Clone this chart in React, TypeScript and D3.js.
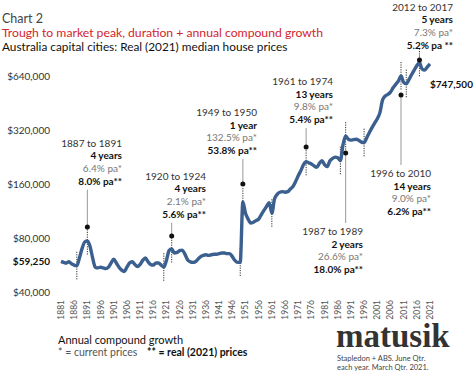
import { useEffect, useRef } from "react";
import * as d3 from "d3";

// real (2021) median house price, one value per year from 1881
const firstYear = 1881;
const prices = [
    59250, 58500, 58000, 59000, 57500, 56500, 56000, 62000, 70000, 76000,
    77000, 72000, 62000, 55000, 54500, 55000, 54500, 54000, 55000, 58000,
    61000, 58000, 55000, 53000, 52000, 55000, 58000, 59000, 57000, 55500,
    57000, 60000, 62000, 59000, 57000, 56500, 58000, 58000, 56500, 55000,
    60000, 68000, 69500, 66000, 66500, 68000, 68500, 65000, 60500, 59000,
    58500, 59000, 61000, 63000, 64000, 64500, 64000, 64500, 65000, 65000,
    65500, 66000, 66000, 65500, 65500, 63000, 60000, 58500, 58500, 127000,
    110000, 102000, 97000, 98000, 100000, 102000, 108000, 114000, 120000, 126000,
    110000, 132000, 140000, 144000, 145000, 144000, 145000, 150000, 155000, 165000,
    178000, 190000, 205000, 213000, 210000, 207000, 202000, 198000, 208000, 216000,
    205000, 200000, 215000, 222000, 226000, 224000, 216000, 265000, 296000, 284000,
    281000, 283000, 284000, 280000, 274000, 272000, 290000, 310000, 330000, 350000,
    370000, 400000, 470000, 495000, 505000, 520000, 550000, 575000, 600000, 640000,
    590000, 580000, 610000, 650000, 690000, 730000, 760000, 700000, 690000, 720000,
    747500,
];

const yearTicks = [
    "1881", "1886", "1891", "1896", "1901", "1906", "1911", "1916", "1921", "1926",
    "1931", "1936", "1941", "1946", "1951", "1956", "1961", "1966", "1971", "1976",
    "1981", "1986", "1991", "1996", "2001", "2006", "2011", "2016", "2021",
];
const priceTicks = [40000, 80000, 160000, 320000, 640000];

// trough year, peak year, duration, pa current prices, pa real prices
const fromYears = [1887, 1920, 1949, 1961, 1987, 1996, 2012];
const toYears = [1891, 1924, 1950, 1974, 1989, 2010, 2017];
const durations = ["4 years", "4 years", "1 year", "13 years", "2 years", "14 years", "5 years"];
const nominalPa = ["6.4% pa*", "2.1% pa*", "132.5% pa*", "9.8% pa*", "26.6% pa*", "9.0% pa*", "7.3% pa*"];
const realPa = ["8.0% pa**", "5.6% pa**", "53.8% pa**", "5.4% pa**", "18.0% pa**", "6.2% pa**", "5.2% pa **"];

// where each label block sits (right edge, first baseline) and where its dot is
const labelPos = [
    { x: 122, y: 146.5, dotY: 227, below: false },
    { x: 206, y: 179.5, dotY: 236, below: false },
    { x: 257, y: 116, dotY: 184, below: false },
    { x: 333, y: 85, dotY: 147, below: false },
    { x: 363, y: 235, dotY: 153, below: true },
    { x: 431, y: 177, dotY: 95, below: true },
    { x: 453, y: 10.5, dotY: 60, below: false },
];

const FONT = "Lato, 'Open Sans', sans-serif";

export default function App() {
    const width = 474;
    const height = 373;
    const svgRef = useRef<SVGSVGElement | null>(null);

    useEffect(() => {
        const svg = d3.select(svgRef.current);
        svg.selectAll("*").remove();

        const xScale = d3.scaleLinear().domain([1881, 2021]).range([61, 430]);
        const yScale = d3.scaleLog().base(2).domain([40000, 640000]).range([292, 76]);

        const points: [number, number][] = prices.map((p, i) => [firstYear + i, p]);
        const valueAt = (yr: number) => prices[yr - firstYear];

        svg.append("rect").attr("width", width).attr("height", height).attr("fill", "white");

        // titles
        svg.append("text").attr("x", 2).attr("y", 23).attr("font-size", 12.5)
            .attr("fill", "#444").text("Chart 2");
        svg.append("text").attr("x", 2).attr("y", 37).attr("font-size", 12.2)
            .attr("fill", "#d3242b").text("Trough to market peak, duration + annual compound growth");
        svg.append("text").attr("x", 2).attr("y", 50.5).attr("font-size", 11.8)
            .attr("fill", "#111").text("Australia capital cities: Real (2021) median house prices");

        // y axis labels
        svg.append("g").selectAll("text").data(priceTicks).join("text")
            .attr("x", 50).attr("y", (d) => yScale(d)).attr("dy", "0.35em")
            .attr("text-anchor", "end").attr("font-size", 10).attr("fill", "#333")
            .text((d) => "$" + d3.format(",")(d));

        svg.append("text").attr("x", 50).attr("y", yScale(prices[0])).attr("dy", "0.35em")
            .attr("text-anchor", "end").attr("font-size", 10).attr("font-weight", "bold")
            .attr("fill", "#111").text("$" + d3.format(",")(prices[0]));
        svg.append("text").attr("x", 430).attr("y", 84).attr("dy", "0.35em")
            .attr("font-size", 10).attr("font-weight", "bold").attr("fill", "#111")
            .text("$" + d3.format(",")(prices[prices.length - 1]));

        // x axis labels, rotated
        svg.append("g").selectAll("text").data(yearTicks).join("text")
            .attr("transform", (d) => `translate(${xScale(+d)},300) rotate(-90)`)
            .attr("dy", "0.35em").attr("text-anchor", "end")
            .attr("font-size", 8.5).attr("fill", "#555")
            .text((d) => d);

        // dotted markers at troughs and peaks
        const marks: number[] = [];
        fromYears.forEach((f, i) => { marks.push(f); marks.push(peakYear(f, toYears[i])); });
        function peakYear(f: number, t: number) {
            let best = f;
            for (let yr = f; yr <= t; yr++) if (valueAt(yr) > valueAt(best)) best = yr;
            return best;
        }
        svg.append("g").selectAll("line").data(marks).join("line")
            .attr("x1", (d) => xScale(d)).attr("x2", (d) => xScale(d))
            .attr("y1", (d) => yScale(valueAt(d)) - 14)
            .attr("y2", (d) => yScale(valueAt(d)) + 14)
            .attr("stroke", "#333").attr("stroke-width", 1)
            .attr("stroke-dasharray", "1.2,1.2");

        // the price line
        const line = d3.line<[number, number]>()
            .x((d) => xScale(d[0]))
            .y((d) => yScale(d[1]))
            .curve(d3.curveMonotoneX);
        svg.append("path").datum(points)
            .attr("fill", "none").attr("stroke", "#3b6090")
            .attr("stroke-width", 3.4).attr("stroke-linejoin", "round")
            .attr("d", line);

        // annotations
        const lineStep = 12.7;
        fromYears.forEach((f, i) => {
            const pos = labelPos[i];
            const px = xScale(peakYear(f, toYears[i]));
            const rows = [
                { t: `${f} to ${toYears[i]}`, w: "normal", c: "#333" },
                { t: durations[i], w: "bold", c: "#111" },
                { t: nominalPa[i], w: "normal", c: "#777" },
                { t: realPa[i], w: "bold", c: "#111" },
            ];
            const g = svg.append("g");
            rows.forEach((r, k) => {
                g.append("text").attr("x", pos.x).attr("y", pos.y + k * lineStep)
                    .attr("text-anchor", "end").attr("font-size", 10)
                    .attr("font-weight", r.w).attr("fill", r.c).text(r.t);
            });
            const textTop = pos.y - 12;
            const textBottom = pos.y + 3 * lineStep + 5;
            g.append("line")
                .attr("x1", px).attr("x2", px)
                .attr("y1", pos.below ? pos.dotY : textBottom)
                .attr("y2", pos.below ? textTop : pos.dotY)
                .attr("stroke", "#999").attr("stroke-width", 1);
            g.append("circle").attr("cx", px).attr("cy", pos.dotY).attr("r", 2.5).attr("fill", "#111");
        });

        // footer
        svg.append("text").attr("x", 58).attr("y", 344).attr("font-size", 11)
            .attr("fill", "#111").text("Annual compound growth");
        svg.append("text").attr("x", 58).attr("y", 356).attr("font-size", 10.5)
            .attr("fill", "#555").text("* = current prices");
        svg.append("text").attr("x", 147).attr("y", 356).attr("font-size", 10.5)
            .attr("fill", "#111").attr("font-weight", "bold").text("** = real (2021) prices");
        svg.append("text").attr("x", 336).attr("y", 347).attr("font-size", 33)
            .attr("font-family", "'Liberation Serif', 'DejaVu Serif', serif")
            .attr("font-weight", "bold").attr("fill", "#333").text("matusik");
        svg.append("text").attr("x", 337).attr("y", 361).attr("font-size", 7.5)
            .attr("fill", "#444").text("Stapledon + ABS.  June Qtr.");
        svg.append("text").attr("x", 337).attr("y", 369.5).attr("font-size", 7.5)
            .attr("fill", "#444").text("each year.  March Qtr. 2021.");
    }, []);

    return (
        <svg ref={svgRef} width={width} height={height}
            style={{ position: "absolute", left: 0, top: 0, fontFamily: FONT }} />
    );
}
